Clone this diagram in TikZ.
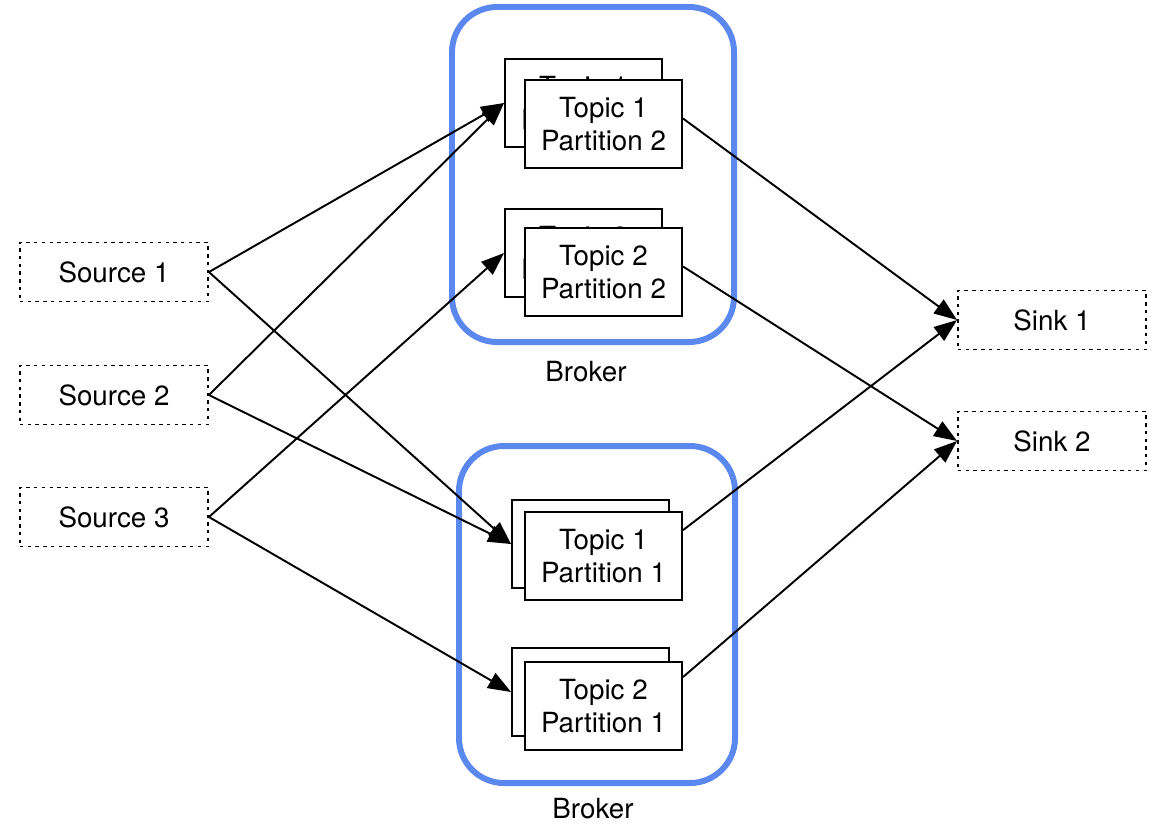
\documentclass[tikz,border=0pt]{standalone}
\usepackage{fontspec}
\setmainfont{TeX Gyre Heros}
\usetikzlibrary{arrows.meta,positioning}
\definecolor{brokerblue}{RGB}{91,136,239}

\begin{document}
\begin{tikzpicture}[x=0.02cm,y=-0.02cm,
    font=\fontsize{15.8}{18.7}\selectfont,
    >={Triangle[length=0.46cm,width=0.34cm]},
    ext/.style={draw,dash pattern=on 1.9pt off 2.5pt,line width=1.1pt,
                minimum width=3.76cm,minimum height=1.18cm},
    topic/.style={draw,fill=white,line width=1.1pt,align=center,inner sep=0pt,
                  minimum width=3.14cm,minimum height=1.76cm},
    broker/.style={draw=brokerblue,line width=3.4pt,rounded corners=0.9cm}]
    \useasboundingbox (0,0) rectangle (1158,823);

    % brokers
    \draw[broker] (452,7) rectangle (734,342);
    \node (brk1) at (586,372) {Broker};
    \draw[broker] (459,446) rectangle (735,783);
    \node (brk2) at (593,809) {Broker};

    % partitions, replica behind the leader
    \node[topic] (t11b) at (583.5,103) {Topic 1\\Partition 1};
    \node[topic] (t12)  at (603.5,124) {Topic 1\\Partition 2};
    \node[topic] (t21b) at (583.5,253) {Topic 2\\Partition 1};
    \node[topic] (t22)  at (603.5,272) {Topic 2\\Partition 2};
    \node[topic] (t12b) at (590.5,544) {};
    \node[topic] (t11)  at (603.5,556) {Topic 1\\Partition 1};
    \node[topic] (t22b) at (590.5,692) {};
    \node[topic] (t21)  at (603.5,706) {Topic 2\\Partition 1};

    % producers and consumers
    \node[ext] (src1) at (114,272) {Source 1};
    \node[ext] (src2) at (114,395) {Source 2};
    \node[ext] (src3) at (114,517) {Source 3};
    \node[ext] (snk1) at (1052,320) {Sink 1};
    \node[ext] (snk2) at (1052,441) {Sink 2};

    \path[->,line width=1.1pt]
    (src1.east) edge (t11b.west)
                edge (t12b.west)
    (src2.east) edge (t11b.west)
                edge (t12b.west)
    (src3.east) edge (t21b.west)
                edge (t22b.west)
    (t12.4)  edge (snk1.west)
    (t22.4)  edge (snk2.west)
    (t11.18) edge (snk1.west)
    (t21.20) edge (snk2.west);
\end{tikzpicture}
\end{document}
